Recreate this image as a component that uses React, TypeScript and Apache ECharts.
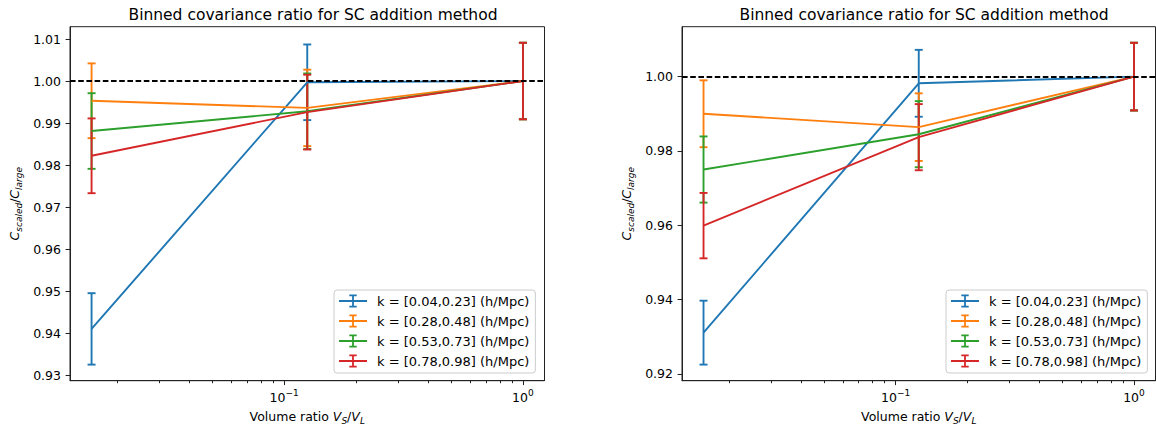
import React, { useEffect, useRef } from 'react';
import * as echarts from 'echarts';

// ---------- data ----------
const volumeRatios = [0.015625, 0.125, 1];
const kBins = [
  'k = [0.04,0.23] (h/Mpc)',
  'k = [0.28,0.48] (h/Mpc)',
  'k = [0.53,0.73] (h/Mpc)',
  'k = [0.78,0.98] (h/Mpc)',
];
const colors = ['#1f77b4', '#ff7f0e', '#2ca02c', '#d62728'];

// left panel
const leftK1 = [0.941, 0.9997, 1.0];
const leftK1Err = [0.0085, 0.009, 0.0091];
const leftK2 = [0.9953, 0.9936, 1.0];
const leftK2Err = [0.0089, 0.0091, 0.0091];
const leftK3 = [0.9881, 0.9928, 1.0];
const leftK3Err = [0.009, 0.009, 0.0091];
const leftK4 = [0.9822, 0.9926, 1.0];
const leftK4Err = [0.0089, 0.0089, 0.0091];

// right panel
const rightK1 = [0.9311, 0.9982, 1.0];
const rightK1Err = [0.0086, 0.009, 0.0091];
const rightK2 = [0.99, 0.9864, 1.0];
const rightK2Err = [0.009, 0.0091, 0.0091];
const rightK3 = [0.975, 0.9845, 1.0];
const rightK3Err = [0.0089, 0.0089, 0.0091];
const rightK4 = [0.9599, 0.9837, 1.0];
const rightK4Err = [0.0088, 0.0089, 0.0091];

const xMajorTicks = [0.1, 1];
const xMinorTicks = [0.02, 0.03, 0.04, 0.05, 0.06, 0.07, 0.08, 0.09, 0.2, 0.3, 0.4, 0.5, 0.6, 0.7, 0.8, 0.9];
const leftYTicks = [0.93, 0.94, 0.95, 0.96, 0.97, 0.98, 0.99, 1.0, 1.01];
const rightYTicks = [0.92, 0.94, 0.96, 0.98, 1.0];

const titleText = 'Binned covariance ratio for SC addition method';

// ---------- helpers ----------
const FONT = 'DejaVu Sans';
const LW = 1.9;

function logLimits(xs: number[]) {
  const lo = Math.log10(Math.min(...xs));
  const hi = Math.log10(Math.max(...xs));
  const m = 0.05 * (hi - lo);
  return [Math.pow(10, lo - m), Math.pow(10, hi + m)];
}
function linLimits(ys: number[][], es: number[][]) {
  let lo = Infinity;
  let hi = -Infinity;
  ys.forEach((arr, j) =>
    arr.forEach((v, i) => {
      lo = Math.min(lo, v - es[j][i]);
      hi = Math.max(hi, v + es[j][i]);
    })
  );
  const m = 0.05 * (hi - lo);
  return [lo - m, hi + m];
}

const legendIcon =
  'path://M0,6.1H28V7.9H0Z M13.1,0.5H14.9V13.5H13.1Z M10.3,0.5H17.7V2.3H10.3Z M10.3,11.7H17.7V13.5H10.3Z';

const mathRich = {
  n: { fontFamily: FONT, fontSize: 12.5, color: '#000', lineHeight: 18 },
  i: { fontFamily: FONT, fontSize: 12.5, fontStyle: 'italic', color: '#000', lineHeight: 18 },
  sub: { fontFamily: FONT, fontSize: 9, fontStyle: 'italic', color: '#000', lineHeight: 10, verticalAlign: 'bottom' },
};
const supRich = {
  b: { fontFamily: FONT, fontSize: 12.5, color: '#000', lineHeight: 18 },
  sup: { fontFamily: FONT, fontSize: 9, color: '#000', lineHeight: 9, verticalAlign: 'top' },
};

export default function App() {
  const ref = useRef<HTMLDivElement>(null);

  useEffect(() => {
    if (!ref.current) return;
    const chart = echarts.init(ref.current, undefined, { renderer: 'svg' });

    const panels = [
      { ys: [leftK1, leftK2, leftK3, leftK4], es: [leftK1Err, leftK2Err, leftK3Err, leftK4Err], yTicks: leftYTicks, left: 70, right: 611.5, cx: 308 },
      { ys: [rightK1, rightK2, rightK3, rightK4], es: [rightK1Err, rightK2Err, rightK3Err, rightK4Err], yTicks: rightYTicks, left: 682, right: 0.5, cx: 919 },
    ];

    const [xMin, xMax] = logLimits(volumeRatios);
    const grid: any[] = [];
    const xAxis: any[] = [];
    const yAxis: any[] = [];
    const series: any[] = [];
    const legend: any[] = [];
    const title: any[] = [];

    panels.forEach((p, g) => {
      grid.push({ left: p.left, right: p.right, top: 26.7, bottom: 50.3, show: true, borderColor: '#222', borderWidth: 1, backgroundColor: 'transparent' });
      xAxis.push({
        type: 'log', logBase: 10, gridIndex: g, min: xMin, max: xMax, position: 'bottom',
        axisLine: { show: true, lineStyle: { color: '#222', width: 1 } },
        axisTick: { show: true, length: 4.4, lineStyle: { color: '#222', width: 1 }, customValues: xMajorTicks },
        axisLabel: {
          show: true, margin: 8, customValues: xMajorTicks,
          formatter: (v: number) => {
            const e = Math.round(Math.log10(v));
            return `{b|10}{sup|${e < 0 ? '\u2212' : ''}${Math.abs(e)}}`;
          },
          rich: supRich,
        },
        splitLine: { show: false }, minorTick: { show: false }, minorSplitLine: { show: false },
        name: '{n|Volume ratio }{i|V}{sub|S}{n|/}{i|V}{sub|L}',
        nameLocation: 'middle', nameGap: 27,
        nameTextStyle: { rich: mathRich },
      });
      xAxis.push({
        type: 'log', logBase: 10, gridIndex: g, min: xMin, max: xMax, position: 'bottom',
        axisLine: { show: false },
        axisTick: { show: true, length: 2.5, lineStyle: { color: '#222', width: 1 }, customValues: xMinorTicks },
        axisLabel: { show: false },
        splitLine: { show: false },
      });
      const [yMin, yMax] = linLimits(p.ys, p.es);
      yAxis.push({
        type: 'value', gridIndex: g, min: yMin, max: yMax,
        axisLine: { show: true, lineStyle: { color: '#222', width: 1 } },
        axisTick: { show: true, length: 4.4, lineStyle: { color: '#222', width: 1 }, customValues: p.yTicks },
        axisLabel: {
          show: true, margin: 9, customValues: p.yTicks,
          formatter: (v: number) => v.toFixed(2),
          fontFamily: FONT, fontSize: 12.5, color: '#000',
        },
        splitLine: { show: false },
        name: '{i|C}{sub|scaled}{n|/}{i|C}{sub|large}',
        nameLocation: 'middle', nameGap: 47, nameRotate: 90,
        nameTextStyle: { rich: mathRich },
      });
      title.push({
        text: titleText, left: p.cx, top: 2, textAlign: 'center',
        textStyle: { fontFamily: FONT, fontSize: 15.5, fontWeight: 'normal', color: '#000' },
      });
      legend.push({
        orient: 'vertical',
        left: g === 0 ? 334 : 946,
        top: 290,
        data: kBins,
        icon: legendIcon,
        itemWidth: 28, itemHeight: 14, itemGap: 6,
        selectedMode: false,
        padding: [4, 6, 5, 5],
        backgroundColor: 'rgba(255,255,255,0.8)',
        borderColor: '#cccccc', borderWidth: 1, borderRadius: 3,
        itemStyle: { borderWidth: 0 },
        textStyle: { fontFamily: FONT, fontSize: 13, color: '#000', lineHeight: 14, padding: [0, 0, 0, 5] },
      });

      p.ys.forEach((ys, k) => {
        const color = colors[k];
        const line: any = {
          type: 'line', name: kBins[k], xAxisIndex: 2 * g, yAxisIndex: g,
          data: volumeRatios.map((x, i) => [x, ys[i]]),
          symbol: 'none', showSymbol: false,
          lineStyle: { width: LW, color },
          itemStyle: { color },
          emphasis: { disabled: true },
          silent: true,
        };
        if (k === 0) {
          line.markLine = {
            silent: true, symbol: ['none', 'none'], label: { show: false },
            lineStyle: { color: '#000', type: [5.6, 2.6], width: LW },
            emphasis: { disabled: true },
            data: [{ yAxis: 1 }],
          };
        }
        series.push(line);
        series.push({
          type: 'custom', name: kBins[k], xAxisIndex: 2 * g, yAxisIndex: g,
          data: volumeRatios.map((x, i) => [x, ys[i], p.es[k][i]]),
          encode: { x: 0, y: 1 },
          silent: true,
          renderItem: (params: any, api: any) => {
            const x = api.value(0);
            const y = api.value(1);
            const e = api.value(2);
            const top = api.coord([x, y + e]);
            const bot = api.coord([x, y - e]);
            const cw = 4;
            const st = { stroke: color, lineWidth: LW };
            return {
              type: 'group',
              children: [
                { type: 'line', shape: { x1: top[0], y1: top[1], x2: bot[0], y2: bot[1] }, style: st },
                { type: 'line', shape: { x1: top[0] - cw, y1: top[1], x2: top[0] + cw, y2: top[1] }, style: st },
                { type: 'line', shape: { x1: bot[0] - cw, y1: bot[1], x2: bot[0] + cw, y2: bot[1] }, style: st },
              ],
            };
          },
        });
      });
    });

    chart.setOption({
      animation: false,
      backgroundColor: '#ffffff',
      textStyle: { fontFamily: FONT },
      title, grid, xAxis, yAxis, legend, series,
    });

    return () => chart.dispose();
  }, []);

  return (
    <div
      ref={ref}
      style={{ position: 'absolute', left: 0, top: 0, width: 1156, height: 431 }}
    />
  );
}
